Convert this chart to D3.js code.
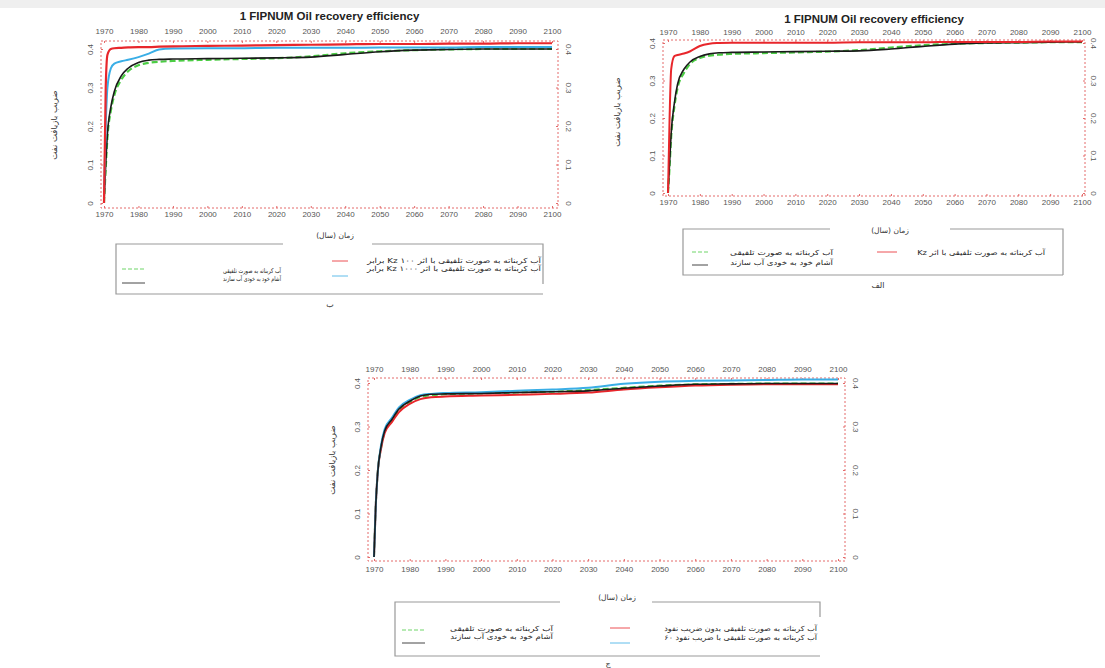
<!DOCTYPE html>
<html><head><meta charset="utf-8">
<script src="https://cdn.jsdelivr.net/npm/d3@7"></script>
<style>
body{margin:0;background:#fff;}
svg{display:block;}
.tick text{font-family:"Liberation Sans",Arial,sans-serif;font-size:8px;fill:#555;}
</style></head><body>
<script>
// ---------- data ----------
const years = [1970, 1970.5, 1971, 1972, 1973, 1975, 1977, 1980, 1983, 1986, 1990, 2000, 2010, 2020, 2030, 2040, 2050, 2060, 2070, 2080, 2090, 2100];
const xTicks = [1970, 1980, 1990, 2000, 2010, 2020, 2030, 2040, 2050, 2060, 2070, 2080, 2090, 2100];
const yTicks = [0, 0.1, 0.2, 0.3, 0.4];

// panel "الف" (top right)
const A_red   = [0, 0.20, 0.33, 0.365, 0.368, 0.372, 0.378, 0.392, 0.398, 0.400, 0.401, 0.401, 0.401, 0.401, 0.402, 0.402, 0.402, 0.403, 0.403, 0.403, 0.404, 0.404];
const A_black = [0, 0.08, 0.16, 0.24, 0.29, 0.33, 0.35, 0.364, 0.371, 0.374, 0.375, 0.376, 0.377, 0.378, 0.379, 0.384, 0.391, 0.397, 0.400, 0.401, 0.402, 0.403];
const A_green = [0, 0.07, 0.15, 0.23, 0.28, 0.32, 0.345, 0.360, 0.366, 0.369, 0.371, 0.373, 0.375, 0.377, 0.381, 0.388, 0.394, 0.398, 0.400, 0.401, 0.402, 0.402];

// panel "ب" (top left)
const B_red   = [0, 0.30, 0.385, 0.400, 0.402, 0.403, 0.404, 0.405, 0.405, 0.406, 0.407, 0.408, 0.409, 0.410, 0.411, 0.412, 0.413, 0.413, 0.414, 0.414, 0.415, 0.415];
const B_blue  = [0.02, 0.20, 0.30, 0.350, 0.362, 0.368, 0.372, 0.379, 0.388, 0.399, 0.401, 0.402, 0.402, 0.403, 0.403, 0.403, 0.404, 0.404, 0.404, 0.405, 0.405, 0.405];
const B_black = [0, 0.10, 0.18, 0.25, 0.29, 0.33, 0.35, 0.365, 0.371, 0.373, 0.374, 0.375, 0.376, 0.377, 0.379, 0.386, 0.393, 0.397, 0.399, 0.400, 0.400, 0.400];
const B_green = [0, 0.09, 0.17, 0.24, 0.28, 0.32, 0.342, 0.358, 0.364, 0.367, 0.369, 0.372, 0.374, 0.376, 0.381, 0.389, 0.394, 0.397, 0.399, 0.400, 0.400, 0.400];

// panel "ج" (bottom)
const C_black = [0, 0.12, 0.19, 0.255, 0.290, 0.316, 0.340, 0.358, 0.370, 0.374, 0.375, 0.376, 0.378, 0.380, 0.382, 0.388, 0.393, 0.397, 0.398, 0.399, 0.399, 0.399];
const C_green = [0, 0.12, 0.19, 0.252, 0.288, 0.314, 0.338, 0.356, 0.368, 0.372, 0.374, 0.376, 0.378, 0.380, 0.384, 0.389, 0.394, 0.397, 0.398, 0.399, 0.399, 0.399];
const C_red   = [0, 0.12, 0.19, 0.250, 0.285, 0.310, 0.333, 0.352, 0.363, 0.367, 0.369, 0.371, 0.373, 0.375, 0.378, 0.385, 0.390, 0.394, 0.396, 0.397, 0.397, 0.397];
const C_blue  = [0, 0.12, 0.19, 0.258, 0.294, 0.320, 0.344, 0.361, 0.372, 0.375, 0.377, 0.379, 0.382, 0.385, 0.389, 0.398, 0.403, 0.405, 0.406, 0.407, 0.408, 0.408];

const titleText = "1 FIPNUM Oil recovery efficiency";
const yTitle = "ضریب بازیافت نفت";
const xTitle = "زمان (سال)";
const L_green = "آب کربناته به صورت تلفیقی";
const L_black = "آشام خود به خودی آب سازند";
const L_A_red = "آب کربناته به صورت تلفیقی با اثر Kz";
const L_B_red = "آب کربناته به صورت تلفیقی با اثر Kz ۱۰۰ برابر";
const L_B_blue = "آب کربناته به صورت تلفیقی با اثر Kz ۱۰۰۰ برابر";
const L_C_red = "آب کربناته به صورت تلفیقی بدون ضریب نفوذ";
const L_C_blue = "آب کربناته به صورت تلفیقی با ضریب نفوذ ۶۰";

const COL = {red:"#e8262b", blue:"#3aaee6", green:"#4ccd45", black:"#1a1a1a"};
const FONT = '"Liberation Sans", Arial, sans-serif';
const FA = '"DejaVu Sans", "Noto Sans", sans-serif';

const svg = d3.select("body").append("svg").attr("width",1105).attr("height",668);
svg.append("rect").attr("width",1105).attr("height",668).attr("fill","#fff");
svg.append("rect").attr("width",1105).attr("height",8).attr("fill","#efefef");

function panel(p){
  const x = d3.scaleLinear().domain([1970,2100]).range([p.x0,p.x1]);
  const y = d3.scaleLinear().domain([0,0.4]).range([p.y0,p.y1]);
  const g = svg.append("g");
  g.append("rect").attr("x",p.L).attr("y",p.T).attr("width",p.R-p.L).attr("height",p.B-p.T)
    .attr("fill","none").attr("stroke","#e46a6a").attr("stroke-width",1).attr("stroke-dasharray","2,2");
  const style = sel => { sel.select(".domain").remove(); sel.selectAll(".tick line").attr("stroke","#e46a6a"); };
  g.append("g").attr("transform",`translate(0,${p.T})`)
    .call(d3.axisTop(x).tickValues(xTicks).tickFormat(d3.format("d")).tickSizeInner(-2).tickSizeOuter(0).tickPadding(p.padTop))
    .call(style);
  g.append("g").attr("transform",`translate(0,${p.B})`)
    .call(d3.axisBottom(x).tickValues(xTicks).tickFormat(d3.format("d")).tickSizeInner(-2).tickSizeOuter(0).tickPadding(p.padBot))
    .call(style);
  const fmt = d=>d===0?"0":d3.format(".1f")(d);
  const yl = g.append("g").attr("transform",`translate(${p.L},0)`)
    .call(d3.axisLeft(y).tickValues(yTicks).tickFormat(fmt).tickSizeInner(-2).tickSizeOuter(0))
    .call(style);
  yl.selectAll(".tick text").attr("transform","rotate(-90)").attr("x",0).attr("y",-(p.L-p.labL)).attr("dy","0").attr("text-anchor","middle");
  const yr = g.append("g").attr("transform",`translate(${p.R},0)`)
    .call(d3.axisRight(y).tickValues(yTicks).tickFormat(fmt).tickSizeInner(-2).tickSizeOuter(0))
    .call(style);
  yr.selectAll(".tick text").attr("transform","rotate(90)").attr("x",0).attr("y",-(p.labR-p.R)).attr("dy","0").attr("text-anchor","middle");
  if(p.title) g.append("text").attr("x",(p.L+p.R)/2).attr("y",p.titleY).attr("text-anchor","middle")
    .attr("font-family",FONT).attr("font-weight","bold").attr("font-size",11.5).attr("fill","#222").text(p.title);
  g.append("text").attr("transform",`translate(${p.ytX},${p.ytY}) rotate(-90)`).attr("text-anchor","middle")
    .attr("font-family",FA).attr("font-size",8.5).attr("fill","#333").text(yTitle);
  const line = d3.line().x((d,i)=>x(years[i])).y(d=>y(d)).curve(d3.curveMonotoneX);
  p.series.forEach(s=>{
    g.append("path").attr("d",line(s.v)).attr("fill","none").attr("stroke",COL[s.c])
      .attr("stroke-width",s.w||2).attr("stroke-dasharray",s.dash||null).attr("stroke-linejoin","round");
  });
  const lg = p.leg;
  const bx = svg.append("g");
  bx.append("path").attr("d",`M${lg.gap[0]},${lg.T} H${lg.L} V${lg.B} H${lg.R} M${lg.R},${lg.T+lg.rv} V${lg.T} H${lg.gap[1]}`)
    .attr("fill","none").attr("stroke","#999").attr("stroke-width",1.2);
  bx.append("text").attr("x",lg.tx).attr("y",lg.ty).attr("text-anchor","middle").attr("font-family",FA)
    .attr("font-size",7.5).attr("fill","#333").text(xTitle);
  lg.items.forEach(it=>{
    bx.append("line").attr("x1",it.lx0).attr("x2",it.lx1).attr("y1",it.ly).attr("y2",it.ly)
      .attr("stroke",COL[it.c]).attr("stroke-width",1).attr("stroke-dasharray",it.c==="green"?"4,2":null).attr("opacity",0.8);
    const t = bx.append("text").attr("x",0).attr("y",0).attr("text-anchor","start").attr("direction","rtl")
      .attr("font-family",FA).attr("font-size",it.fs||7).attr("fill","#222").text(it.t);
    const len = t.node().getComputedTextLength() || it.w;
    t.attr("transform",`translate(${it.tx},${it.ty}) scale(${it.w/len},1)`);
  });
  bx.append("text").attr("x",lg.lx).attr("y",lg.ly).attr("text-anchor","middle").attr("font-family",FA)
    .attr("font-size",8).attr("fill","#333").text(lg.label);
}

// panel ب (top-left)
panel({L:101,R:558,T:41,B:208,x0:104,x1:552,y0:203,y1:49,padTop:7,padBot:3,labL:93,labR:566,
  title:titleText,titleY:20,ytX:57,ytY:125,
  series:[
    {v:B_green,c:"green",dash:"6,3",w:2.2},
    {v:B_black,c:"black",w:1.6},
    {v:B_blue,c:"blue",w:2},
    {v:B_red,c:"red",w:2.2}
  ],
  leg:{L:116,R:543,T:244,B:294,rv:40,gap:[283,372],tx:335,ty:238,lx:330,ly:307,label:"ب",
    items:[
      {c:"green",lx0:122,lx1:145,ly:269,tx:281,ty:273,t:L_green,w:58,fs:6.5},
      {c:"black",lx0:122,lx1:145,ly:283,tx:281,ty:281,t:L_black,w:58,fs:6.5},
      {c:"red",lx0:332,lx1:348,ly:261,tx:541,ty:263,t:L_B_red,w:174,fs:7},
      {c:"blue",lx0:332,lx1:348,ly:276,tx:541,ty:271,t:L_B_blue,w:174,fs:7}
    ]}
});

// panel الف (top-right)
panel({L:663,R:1085,T:40,B:196,x0:668,x1:1082,y0:193,y1:43,padTop:5,padBot:3,labL:655,labR:1091,
  title:titleText,titleY:23,ytX:620,ytY:112,
  series:[
    {v:A_green,c:"green",dash:"6,3",w:2.2},
    {v:A_black,c:"black",w:1.6},
    {v:A_red,c:"red",w:2}
  ],
  leg:{L:683,R:1063,T:229,B:275,rv:46,gap:[830,950],tx:890,ty:233,lx:878,ly:288,label:"الف",
    items:[
      {c:"green",lx0:692,lx1:708,ly:252,tx:833,ty:255,t:L_green,w:103},
      {c:"black",lx0:692,lx1:708,ly:265,tx:833,ty:265,t:L_black,w:103},
      {c:"red",lx0:877,lx1:897,ly:252,tx:1045,ty:255,t:L_A_red,w:128}
    ]}
});

// panel ج (bottom)
panel({L:368,R:845,T:378,B:561,x0:374,x1:838,y0:557,y1:383,padTop:6,padBot:5,labL:360,labR:853,
  title:null,ytX:335,ytY:460,
  series:[
    {v:C_green,c:"green",dash:"6,3",w:2},
    {v:C_red,c:"red",w:2},
    {v:C_blue,c:"blue",w:2},
    {v:C_black,c:"black",w:1.6}
  ],
  leg:{L:395,R:820,T:602,B:656,rv:15,gap:[560,652],tx:617,ty:600,lx:608,ly:666,label:"ج",
    items:[
      {c:"green",lx0:402,lx1:425,ly:630,tx:553,ty:631,t:L_green,w:103},
      {c:"black",lx0:402,lx1:425,ly:643,tx:553,ty:639,t:L_black,w:103},
      {c:"red",lx0:610,lx1:630,ly:628,tx:817,ty:631,t:L_C_red,w:153},
      {c:"blue",lx0:610,lx1:630,ly:643,tx:817,ty:640,t:L_C_blue,w:153}
    ]}
});
</script>
</body></html>
